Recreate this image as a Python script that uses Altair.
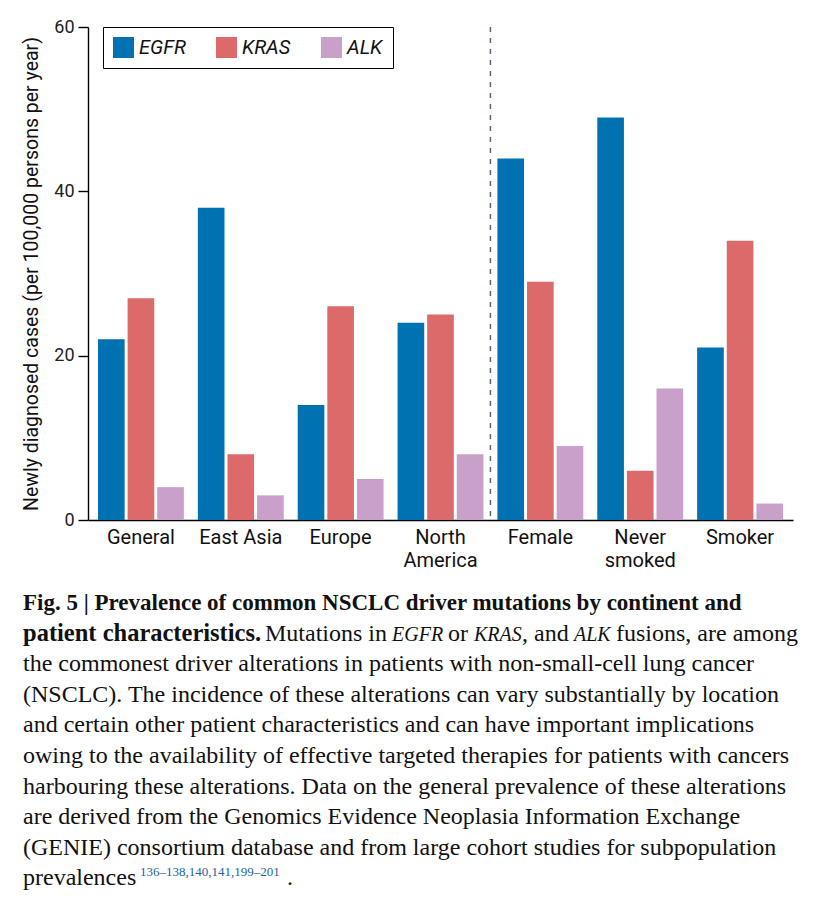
import altair as alt
import pandas as pd

# ---------------- data ----------------
groups = ["General", "East Asia", "Europe", "North America", "Female", "Never smoked", "Smoker"]
genes = ["EGFR", "KRAS", "ALK"]
egfr = [22, 38, 14, 24, 44, 49, 21]
kras = [27, 8, 26, 25, 29, 6, 34]
alk = [4, 3, 5, 8, 9, 16, 2]
y_ticks = [0, 20, 40, 60]
y_title = "Newly diagnosed cases (per 100,000 persons per year)"
divider_group = ["Female"]

caption_line1 = "Fig. 5 | Prevalence of common NSCLC driver mutations by continent and"
caption_line2 = [("patient characteristics.", "bold"), ("Mutations in", "normal"), ("EGFR", "italic"),
                 ("or", "normal"), ("KRAS", "italic"), (", and", "normal"), ("ALK", "italic"),
                 ("fusions, are among", "normal")]
caption_body = [
    "the commonest driver alterations in patients with non-small-cell lung cancer",
    "(NSCLC). The incidence of these alterations can vary substantially by location",
    "and certain other patient characteristics and can have important implications",
    "owing to the availability of effective targeted therapies for patients with cancers",
    "harbouring these alterations. Data on the general prevalence of these alterations",
    "are derived from the Genomics Evidence Neoplasia Information Exchange",
    "(GENIE) consortium database and from large cohort studies for subpopulation",
]
caption_last = "prevalences"
caption_refs = "136\u2013138,140,141,199\u2013201"
caption_end = "."

# ---------------- styles / layout ----------------
colors = ["#0072b2", "#dc6a6a", "#c9a0ca"]
W, H = 705, 493
SANS = "Roboto"
SERIF = "Liberation Serif"
CAP_SIZE = 24
CAP_ITALIC = 20
CAP_BOLD1 = 23
CAP_BOLD2 = 24.5
CAP_X0 = -65
CAP_Y0 = 583
CAP_DY = 30.6
line2_x = [-65, 177, 304, 360, 386, 434, 486, 528]
last_x = [-65, 52, 199]

rows = []
for i, g in enumerate(groups):
    for gene, vals in zip(genes, [egfr, kras, alk]):
        rows.append({"group": g, "gene": gene, "value": vals[i]})
df = pd.DataFrame(rows)

label_expr = ("datum.label == 'North America' ? ['North', 'America'] : "
              "datum.label == 'Never smoked' ? ['Never', 'smoked'] : datum.label")

x_enc = alt.X("group:N", sort=groups,
              scale=alt.Scale(paddingInner=0.14, paddingOuter=0.1),
              axis=alt.Axis(title=None, ticks=False, labelAngle=0, labelFontSize=20,
                            labelFont=SANS, labelColor="#111", labelPadding=7,
                            labelLineHeight=23, labelExpr=label_expr,
                            domainColor="black", domainWidth=1.4))

bars = alt.Chart(df).mark_bar().encode(
    x=x_enc,
    xOffset=alt.XOffset("gene:N", sort=genes, scale=alt.Scale(paddingInner=0.1, paddingOuter=0)),
    y=alt.Y("value:Q", scale=alt.Scale(domain=[0, 60], nice=False),
            axis=alt.Axis(values=y_ticks, title=y_title, grid=False, tickSize=10,
                          tickColor="black", tickWidth=1.4, domainColor="black", domainWidth=1.4,
                          labelFont=SANS, labelFontSize=18, labelColor="#222", labelPadding=4,
                          titleFont=SANS, titleFontSize=19.5, titleFontWeight="normal",
                          titleColor="#111", titlePadding=12)),
    color=alt.Color("gene:N", sort=genes,
                    scale=alt.Scale(domain=genes, range=colors),
                    legend=alt.Legend(title=None, orient="none", legendX=15, legendY=0,
                                      direction="horizontal", columns=3, columnPadding=30,
                                      symbolType="square", symbolSize=441, symbolStrokeWidth=0,
                                      symbolOpacity=1, labelFont=SANS, labelFontSize=20,
                                      labelFontStyle="italic", labelColor="#111", labelOffset=5,
                                      padding=10, strokeColor="black", fillColor="white")),
)

rule = alt.Chart(pd.DataFrame({"group": divider_group})).mark_rule(
    strokeDash=[5, 6], color="#5a6478", strokeWidth=1.5, xOffset=-7
).encode(x=alt.X("group:N", sort=groups, bandPosition=0))


def txt(text, x, y, weight="normal", style="normal", size=CAP_SIZE, color="#111"):
    return alt.Chart(pd.DataFrame({"t": [text]})).mark_text(
        align="left", baseline="alphabetic", font=SERIF, fontSize=size,
        fontWeight=weight, fontStyle=style, color=color
    ).encode(text="t:N", x=alt.value(x), y=alt.value(y))


layers = [bars, rule]
layers.append(txt(caption_line1, CAP_X0, CAP_Y0, weight="bold", size=CAP_BOLD1))
for (t, s), xx in zip(caption_line2, line2_x):
    if s == "bold":
        layers.append(txt(t, xx, CAP_Y0 + CAP_DY, weight="bold", size=CAP_BOLD2))
    elif s == "italic":
        layers.append(txt(t, xx, CAP_Y0 + CAP_DY, style="italic", size=CAP_ITALIC))
    else:
        layers.append(txt(t, xx, CAP_Y0 + CAP_DY))
for k, line in enumerate(caption_body):
    layers.append(txt(line, CAP_X0, CAP_Y0 + CAP_DY * (k + 2)))
ylast = CAP_Y0 + CAP_DY * 9
layers.append(txt(caption_last, last_x[0], ylast))
layers.append(txt(caption_refs, last_x[1], ylast - 9, size=13, color="#1f5fa6"))
layers.append(txt(caption_end, last_x[2], ylast))

chart = alt.layer(*layers).properties(
    width=W, height=H,
    autosize=alt.AutoSizeParams(type="none"),
    padding={"left": 80, "top": 19, "right": 10, "bottom": 370},
).configure_view(stroke=None)

chart.save("out.html", embed_options={"renderer": "svg", "actions": False})
